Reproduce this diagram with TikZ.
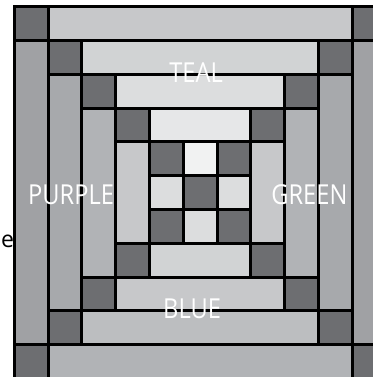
\documentclass[tikz,border=0pt]{standalone}
\usepackage{fontspec}
\setmainfont{Open Sans}
\usepackage{xcolor,tikz}
\usetikzlibrary{positioning}
\definecolor{dk}{HTML}{6D6E71}
\definecolor{t0}{HTML}{C7C8CA}\definecolor{t1}{HTML}{D1D3D4}\definecolor{t2}{HTML}{DCDDDE}\definecolor{t3}{HTML}{E6E7E8}\definecolor{t4}{HTML}{F1F2F2}
\definecolor{l0}{HTML}{A0A1A4}\definecolor{l1}{HTML}{A7A9AC}\definecolor{l2}{HTML}{B1B3B6}\definecolor{l3}{HTML}{C7C8CA}\definecolor{l4}{HTML}{DCDDDE}
\definecolor{b0}{HTML}{B1B3B6}\definecolor{b1}{HTML}{BCBEC0}\definecolor{b2}{HTML}{C7C8CA}\definecolor{b3}{HTML}{D1D3D4}\definecolor{b4}{HTML}{DCDDDE}
\begin{document}
\begin{tikzpicture}[x=33.8pt,y=-33.8pt,pc/.style={draw,line width=3pt},lb/.style={text=white,inner sep=0pt,xscale=.86,font=\fontsize{27.5}{30}\selectfont}]
\clip (-0.423,-0.198) rectangle (10.612,10.956);
\foreach \k/\ct/\cl/\cb in {0/t0/l0/b0,1/t1/l1/b1,2/t2/l2/b2,3/t3/l3/b3,4/t4/l4/b4}{
\draw[pc,fill=\ct] (\k+1,\k) rectangle (10-\k,\k+1);
\draw[pc,fill=\cb] (\k+1,10-\k) rectangle (10-\k,11-\k);
\draw[pc,fill=\cl] (\k,\k+1) rectangle (\k+1,10-\k);
\draw[pc,fill=\cl] (10-\k,\k+1) rectangle (11-\k,10-\k);
\foreach \i/\j in {\k/\k,10-\k/\k,\k/10-\k,10-\k/10-\k} \draw[pc,fill=dk] (\i,\j) rectangle +(1,1);
}
\draw[pc,fill=dk] (5,5) rectangle (6,6);
\node[lb] (teal) at (5.38,1.96) {TEAL};
\node[lb] (purple) at (1.68,5.56) {PURPLE};
\node[lb] (green) at (8.73,5.55) {GREEN};
\node[lb] (blue) at (5.26,8.95) {BLUE};
\node[anchor=base east,inner sep=0pt,font=\fontsize{23}{25}\selectfont] (e) at (0,7.13) {e};
\end{tikzpicture}
\end{document}
